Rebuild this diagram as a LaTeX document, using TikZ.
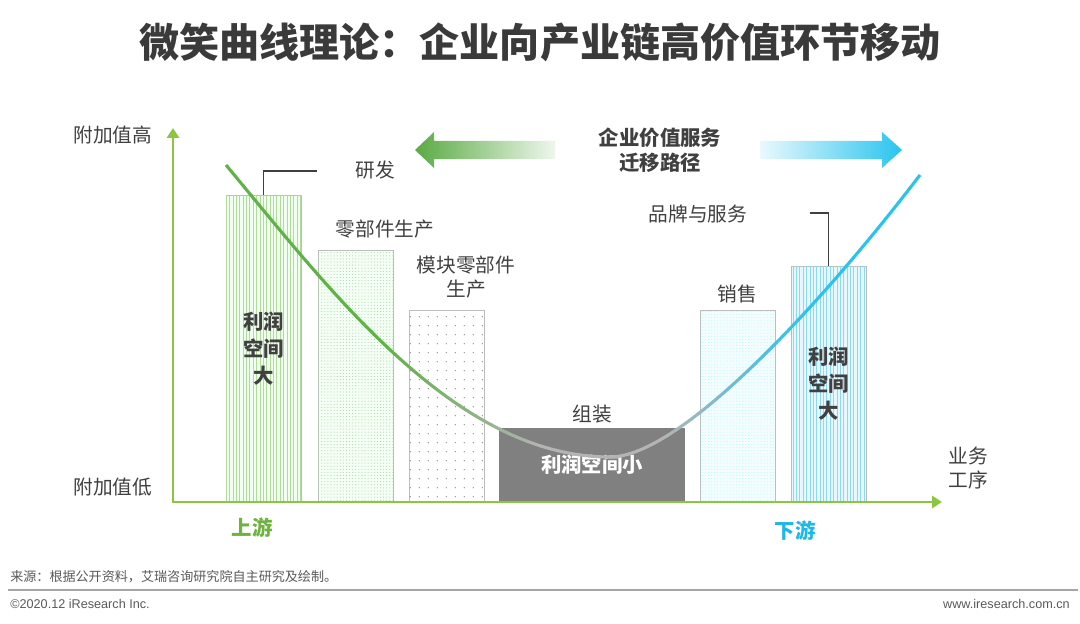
\documentclass[tikz,border=0pt]{standalone}
\usepackage{fontspec}
\setmainfont{Noto Sans CJK SC}
\newfontfamily\latinfont{Liberation Sans}
\usepackage{xcolor}
\usepackage{tikz}
\usetikzlibrary{positioning,arrows.meta,patterns.meta}

\definecolor{axisgreen}{HTML}{8CC540}
\definecolor{upgreen}{HTML}{6DB33F}
\definecolor{downblue}{HTML}{1FB7E9}
\definecolor{curvegreen}{HTML}{5FB246}
\definecolor{curvegray}{HTML}{B4B4B4}
\definecolor{curveblue}{HTML}{2CC3EB}
\definecolor{titlegray}{HTML}{3A3A3A}
\definecolor{textgray}{HTML}{404040}
\definecolor{edgegray}{HTML}{BDBDBD}
\definecolor{footgray}{HTML}{595959}
\definecolor{arrowgreen}{HTML}{5AAA44}
\definecolor{arrowblue}{HTML}{2AC4EE}
\definecolor{stripegreen}{HTML}{B2DA9C}
\definecolor{stripeblue}{HTML}{8ED9F2}

\begin{document}
\begin{tikzpicture}[
  x=0.025cm, y=-0.025cm,
  lbl/.style={font=\fontsize{14}{16.5}\selectfont, text=textgray, align=center, inner sep=0pt},
  boldlbl/.style={lbl, font=\bfseries\fontsize{14.5}{18}\selectfont},
  bar/.style={draw=edgegray, line width=0.7pt, minimum width=1.875cm, inner sep=0pt,
              anchor=south, font=\bfseries\fontsize{14.5}{19.2}\selectfont,
              text=textgray, align=center},
  axis/.style={axisgreen, line width=2pt,
               {Triangle[width=8.5pt,length=7pt]}-{Triangle[width=8.5pt,length=7pt]}},
  leader/.style={draw=textgray, line width=1pt},
  curve/.style={line width=2.2pt},
  foot/.style={inner sep=0pt, text=footgray},
]
\useasboundingbox (0,0) rectangle (1080,624);

% title
\node[font=\bfseries\fontsize{28.5}{34}\selectfont, text=titlegray] (title) at (540,42)
  {微笑曲线理论：企业向产业链高价值环节移动};

% migration arrows
\shade[left color=arrowgreen, right color=arrowgreen!10]
  (415,150) -- (434,132) -- (434,141) -- (555,141) -- (555,159) -- (434,159) -- (434,168) -- cycle;
\shade[left color=arrowblue!10, right color=arrowblue]
  (760,141) -- (882,141) -- (882,132) -- (902,150) -- (882,168) -- (882,159) -- (760,159) -- cycle;
\node[boldlbl] (path) at (660,150) {企业价值服务\\迁移路径};

% bars
\node[bar, fill=green!6!white, minimum height=7.65cm,
      postaction={pattern={Lines[angle=90,distance=2.4pt,line width=0.5pt]}, pattern color=stripegreen}]
  (rd) at (263.5,502) {利润\\空间\\大};
\node[bar, fill=green!4!white, minimum height=6.275cm,
      postaction={pattern={Dots[distance=2.2pt,radius=0.4pt]}, pattern color=green!40!gray!50}]
  (parts) at (355.5,502) {};
\node[bar, fill=white, minimum height=4.775cm,
      postaction={pattern={Dots[distance=6.5pt,radius=0.5pt]}, pattern color=gray}]
  (module) at (446.5,502) {};
\node[bar, fill=gray, draw=gray, text=white, minimum width=4.6cm, minimum height=1.825cm]
  (asm) at (592,502) {利润空间小};
\node[bar, fill=cyan!4!white, minimum height=4.775cm,
      postaction={pattern={Dots[distance=2.2pt,radius=0.4pt]}, pattern color=cyan!30}]
  (sales) at (737.5,502) {};
\node[bar, fill=cyan!10!white, minimum height=5.875cm,
      postaction={pattern={Lines[angle=90,distance=2.4pt,line width=0.5pt]}, pattern color=stripeblue}]
  (brand) at (828.5,502) {利润\\空间\\大};

% bar labels
\node[lbl] (rdlbl) at (375,170) {研发};
\node[lbl] (partslbl) at (385,229) {零部件生产};
\node[lbl] (modlbl) at (466,277) {模块零部件\\生产};
\node[lbl] (asmlbl) at (592,414) {组装};
\node[lbl] (saleslbl) at (737,294) {销售};
\node[lbl] (brandlbl) at (698,214) {品牌与服务};
\coordinate (rdtag) at (317,171);
\coordinate (brtag) at (810,213);
\draw[leader] (rd.north) |- (rdtag);
\draw[leader] (brand.north) |- (brtag);

% axes
\coordinate (ytop) at (173,128);
\coordinate (xend) at (942,502);
\draw[axis] (ytop) |- (xend);
\node[lbl] (hi) at (113,135) {附加值高};
\node[lbl] (lo) at (113,487) {附加值低};
\node[lbl] (proc) at (968,468) {业务\\工序};
\node[boldlbl, text=upgreen] (up) at (252,528) {上游};
\node[boldlbl, text=downblue] (down) at (795,531) {下游};

% smile curve, green -> gray -> blue
\def\smilepath{(226,165) .. controls (330,290) and (455,457) .. (610,457)
  .. controls (680,457) and (820,306) .. (920,175)}
\foreach \xa in {220,228,...,924} {
  \pgfmathsetmacro\mixg{max(0,min(100,(\xa-380)/1.6))}
  \pgfmathsetmacro\mixb{max(0,min(100,(\xa-660)/1.4))}
  \colorlet{segtmp}{curvegray!\mixg!curvegreen}
  \colorlet{segcol}{curveblue!\mixb!segtmp}
  \begin{scope}
    \clip (\xa,100) rectangle (\xa+8.5,540);
    \draw[curve, segcol] \smilepath;
  \end{scope}
}

% footer
\node[foot, anchor=west, font=\fontsize{9.3}{11}\selectfont] (src) at (10,577)
  {来源：根据公开资料，艾瑞咨询研究院自主研究及绘制。};
\coordinate (fl) at (8,590);
\coordinate (fr) at (1078,590);
\draw[gray!70, line width=1.4pt] (fl) -- (fr);
\node[foot, anchor=west, font=\latinfont\fontsize{9}{11}\selectfont] (copy) at (10,604)
  {©2020.12 iResearch Inc.};
\node[foot, anchor=east, font=\latinfont\fontsize{9}{11}\selectfont] (web) at (1070,604)
  {www.iresearch.com.cn};
\end{tikzpicture}
\end{document}
